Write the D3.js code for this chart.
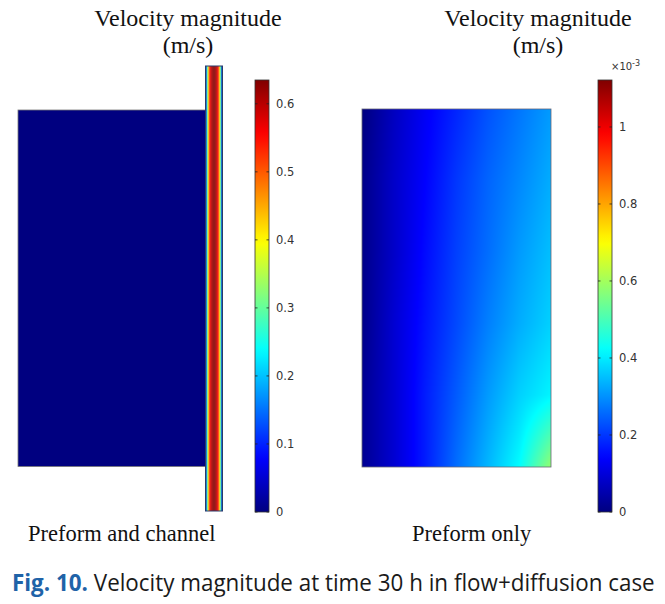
<!DOCTYPE html>
<html><head><meta charset="utf-8">
<script src="https://cdn.jsdelivr.net/npm/d3@7"></script>
<style>body{margin:0;background:#fff}svg{display:block}</style>
</head><body>
<script>
// ---------- data ----------
const leftTicks = [0, 0.1, 0.2, 0.3, 0.4, 0.5, 0.6];
const leftMax = 0.635;                       // m/s, top of left colour bar
const rightTicks = [0, 0.2, 0.4, 0.6, 0.8, 1];
const rightMax = 1.122;                      // x1e-3 m/s, top of right colour bar
const preformLeftValue = 0;                  // velocity in preform (left case)
// velocity across channel width (m/s), left wall -> right wall
const channelProfile = [0.02, 0.22, 0.38, 0.48, 0.55, 0.59, 0.61, 0.625, 0.63, 0.625, 0.61, 0.59, 0.55, 0.48, 0.38, 0.22, 0.02];
// preform-only field (x1e-3 m/s), rows top->bottom, cols left->right
const fieldRow0 = [0.00, 0.07, 0.13, 0.18, 0.23, 0.27, 0.31];
const fieldRow1 = [0.01, 0.08, 0.14, 0.20, 0.25, 0.29, 0.33];
const fieldRow2 = [0.01, 0.08, 0.15, 0.21, 0.26, 0.31, 0.35];
const fieldRow3 = [0.01, 0.09, 0.16, 0.22, 0.28, 0.33, 0.37];
const fieldRow4 = [0.02, 0.09, 0.17, 0.24, 0.31, 0.37, 0.41];
const fieldRow5 = [0.02, 0.09, 0.17, 0.26, 0.34, 0.42, 0.58];
const field = [fieldRow0, fieldRow1, fieldRow2, fieldRow3, fieldRow4, fieldRow5];
const titleLines = ["Velocity magnitude", "(m/s)"];
const leftLabel = "Preform and channel";
const rightLabel = "Preform only";
const captionBold = "Fig. 10.";
const captionRest = " Velocity magnitude at time 30 h in flow+diffusion case";

// ---------- setup ----------
const W = 665, H = 604;
const svg = d3.select("body").append("svg").attr("width", W).attr("height", H);
const jetStops = [0, 0.125, 0.375, 0.625, 0.875, 1];
const jetCols = ["#000080", "#0000ff", "#00ffff", "#ffff00", "#ff0000", "#800000"];
const jet = d3.scaleLinear().domain(jetStops).range(jetCols).interpolate(d3.interpolateRgb).clamp(true);
const colL = v => jet(v / leftMax);
const colR = v => jet(v / rightMax);

const serif = "'Liberation Serif','DejaVu Serif',serif";
const sans = "'DejaVu Sans','Liberation Sans',sans-serif";

// titles
[188, 538].forEach(cx => {
  titleLines.forEach((t, i) => {
    svg.append("text").attr("x", cx).attr("y", 26 + i * 27).attr("text-anchor", "middle")
      .attr("font-family", serif).attr("font-size", 24).attr("fill", "#111").text(t);
  });
});

// ---------- left panel ----------
const pxL = d3.scaleLinear().domain([0, 1]).range([18, 205.5]);
const pyL = d3.scaleLinear().domain([0, 1]).range([110, 466.5]);
svg.append("rect").attr("x", pxL(0)).attr("y", pyL(0)).attr("width", pxL(1) - pxL(0)).attr("height", pyL(1) - pyL(0))
  .attr("fill", colL(preformLeftValue)).attr("stroke", "#777").attr("stroke-width", 0.8);

const chX = d3.scaleBand().domain(d3.range(channelProfile.length)).range([205.5, 222.5]);
const chY = [66, 511];
svg.append("g").selectAll("rect").data(channelProfile).join("rect")
  .attr("x", (d, i) => chX(i)).attr("width", chX.bandwidth() + 0.3)
  .attr("y", chY[0]).attr("height", chY[1] - chY[0])
  .attr("fill", d => colL(d));
svg.append("rect").attr("x", 205.5).attr("y", chY[0]).attr("width", 17).attr("height", chY[1] - chY[0])
  .attr("fill", "none").attr("stroke", "#2a3a6a").attr("stroke-width", 1);

// ---------- right panel (field) ----------
const fx0 = 362, fx1 = 551, fy0 = 109, fy1 = 467;
const fw = Math.round(fx1 - fx0), fh = Math.round(fy1 - fy0);
const canvas = document.createElement("canvas");
canvas.width = fw; canvas.height = fh;
const ctx = canvas.getContext("2d");
const img = ctx.createImageData(fw, fh);
const nr = field.length, nc = field[0].length;
for (let j = 0; j < fh; j++) {
  const gy = j / (fh - 1) * (nr - 1);
  const r0 = Math.min(Math.floor(gy), nr - 2), ty = gy - r0;
  for (let i = 0; i < fw; i++) {
    const gx = i / (fw - 1) * (nc - 1);
    const c0 = Math.min(Math.floor(gx), nc - 2), tx = gx - c0;
    const v = (1 - ty) * ((1 - tx) * field[r0][c0] + tx * field[r0][c0 + 1]) +
              ty * ((1 - tx) * field[r0 + 1][c0] + tx * field[r0 + 1][c0 + 1]);
    const c = d3.rgb(colR(v));
    const k = (j * fw + i) * 4;
    img.data[k] = c.r; img.data[k + 1] = c.g; img.data[k + 2] = c.b; img.data[k + 3] = 255;
  }
}
ctx.putImageData(img, 0, 0);
svg.append("image").attr("x", fx0).attr("y", fy0).attr("width", fw).attr("height", fh)
  .attr("preserveAspectRatio", "none").attr("href", canvas.toDataURL());
svg.append("rect").attr("x", fx0).attr("y", fy0).attr("width", fw).attr("height", fh)
  .attr("fill", "none").attr("stroke", "#667").attr("stroke-width", 0.8);

// ---------- colour bars ----------
const defs = svg.append("defs");
function colorbar(id, x, maxV, ticks, fmt) {
  const y = d3.scaleLinear().domain([0, maxV]).range([512, 80]);
  const grad = defs.append("linearGradient").attr("id", id).attr("x1", 0).attr("y1", 1).attr("x2", 0).attr("y2", 0);
  d3.range(0, 1.0001, 0.02).forEach(t => grad.append("stop").attr("offset", t).attr("stop-color", jet(t)));
  const g = svg.append("g");
  g.append("rect").attr("x", x).attr("y", 80).attr("width", 14).attr("height", 432)
    .attr("fill", `url(#${id})`).attr("stroke", "#333").attr("stroke-width", 0.8);
  const ax = d3.axisRight(y).tickValues(ticks).tickSize(0).tickPadding(7).tickFormat(fmt);
  const ag = g.append("g").attr("transform", `translate(${x + 14},0)`).call(ax);
  ag.select(".domain").remove();
  ag.selectAll("text").attr("font-family", sans).attr("font-size", 11.5).attr("fill", "#333");
  g.selectAll("line.tk").data(ticks).join("line").attr("class", "tk")
    .attr("x1", x).attr("x2", x + 2.5).attr("y1", d => y(d)).attr("y2", d => y(d)).attr("stroke", "#222").attr("stroke-width", 0.8);
  g.selectAll("line.tk2").data(ticks).join("line").attr("class", "tk2")
    .attr("x1", x + 14).attr("x2", x + 11.5).attr("y1", d => y(d)).attr("y2", d => y(d)).attr("stroke", "#222").attr("stroke-width", 0.8);
  return g;
}
colorbar("gl", 255, leftMax, leftTicks, d3.format("~g"));
colorbar("gr", 598, rightMax, rightTicks, d3.format("~g"));
const ex = svg.append("text").attr("x", 611).attr("y", 70).attr("font-family", sans).attr("font-size", 10).attr("fill", "#333");
ex.append("tspan").text("×10");
ex.append("tspan").attr("dy", -4).attr("font-size", 8).text("-3");

// ---------- labels ----------
svg.append("text").attr("x", 28).attr("y", 541).attr("font-family", serif).attr("font-size", 22.5).attr("fill", "#111").text(leftLabel);
svg.append("text").attr("x", 412).attr("y", 541).attr("font-family", serif).attr("font-size", 22.5).attr("fill", "#111").text(rightLabel);

// caption: compressed horizontally to mimic a condensed sans face
const capG = svg.append("g");
const cap = capG.append("text").attr("x", 0).attr("y", 0).attr("font-family", "'Open Sans','Noto Sans',sans-serif")
  .attr("font-size", 24).attr("fill", "#1a1a1a");
cap.append("tspan").attr("font-weight", "bold").attr("fill", "#1f63a8").text(captionBold);
cap.append("tspan").text(captionRest);
const natW = cap.node().getComputedTextLength();
capG.attr("transform", `translate(12,591) scale(${643 / natW},1)`);
</script>
</body></html>
